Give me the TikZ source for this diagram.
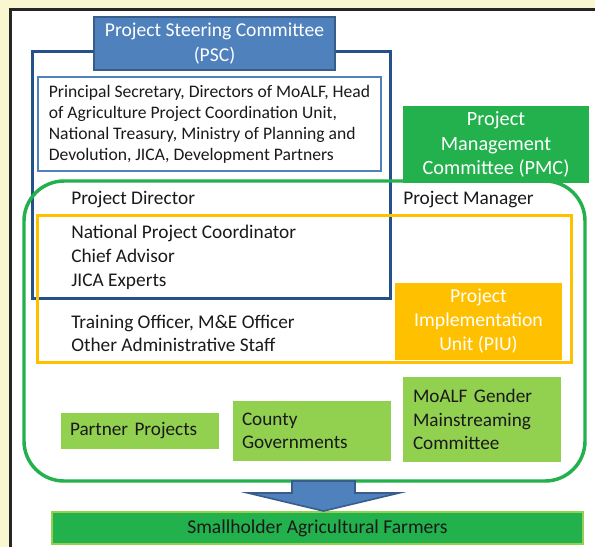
\documentclass[tikz,border=0pt]{standalone}
\usepackage{fontspec}
\setmainfont{Carlito}
\usetikzlibrary{calc}
\definecolor{paper}{HTML}{FAF6D0}
\definecolor{frameline}{HTML}{262626}
\definecolor{navy}{HTML}{24508C}
\definecolor{pscblue}{HTML}{4F81BD}
\definecolor{pscedge}{HTML}{385D8A}
\definecolor{pmcgreen}{HTML}{22B14C}
\definecolor{piuorange}{HTML}{FFC000}
\definecolor{leafgreen}{HTML}{92D050}
\definecolor{ink}{HTML}{1A1A1A}
\newcommand{\bigtxt}{\fontsize{15.2}{18.4}\selectfont}
\newcommand{\midtxt}{\fontsize{14.5}{18}\selectfont}
\newcommand{\smalltxt}{\fontsize{13.2}{15.75}\selectfont}

\begin{document}
\begin{tikzpicture}[x=0.75pt,y=-0.75pt,
    unit/.style={rectangle,inner sep=0pt,align=center,text=white,font=\bigtxt},
    partner/.style={rectangle,fill=leafgreen,inner ysep=0pt,inner xsep=6.75pt,
      text width=105pt,align=left,text=ink,font=\fontsize{14.4}{17.5}\selectfont},
    staff/.style={inner sep=0pt,anchor=west,align=left,text=ink,font=\midtxt}]
   \useasboundingbox (0,0) rectangle (595,547);
   \fill[paper] (0,0) rectangle (595,547);
   \fill[white] (10,9) rectangle (595,547);
   \draw[frameline,line width=2.25pt] (10,547) -- (10,9) -- (595,9);
   \draw[navy,line width=2.25pt] (32,51) rectangle (390,298);
   \node[unit,fill=pscblue,draw=pscedge,line width=2pt,minimum width=180.75pt,
     minimum height=39.75pt,text depth=2pt,font=\fontsize{14.7}{19}\selectfont] (psc)
     at (214.5,43.5) {Project Steering Committee\\(PSC)};
   \node[draw=pscblue,line width=1.1pt,inner sep=0pt,minimum width=257.25pt,
     minimum height=70.5pt,align=left,text=ink,font=\smalltxt]
     (members) at (209.5,124)
     {Principal Secretary, Directors of MoALF, Head\\of Agriculture Project Coordination Unit,\\
      National Treasury, Ministry of Planning and\\Devolution, JICA, Development Partners};
   \node[draw=pmcgreen,line width=2.6pt,rounded corners=30pt,minimum width=420.75pt,
     minimum height=225pt,inner sep=0pt] (pmu) at (304.5,331) {};
   \node[unit,fill=pmcgreen,minimum width=139.5pt,minimum height=57.75pt] (pmc)
     at (496,144.5) {Project\\Management\\Committee (PMC)};
   \draw[piuorange,line width=2.25pt] (37,215) rectangle (571,362);
   \node[unit,fill=piuorange,minimum width=125.25pt,minimum height=57.75pt,
     font=\fontsize{14.8}{18}\selectfont] (piu)
     at (478.5,321.5) {Project\\Implementation\\Unit (PIU)};
   \node[staff] (director) at (71,199.5) {Project Director};
   \node[staff] (manager) at (403,199.5) {Project Manager};
   \node[staff] (advisors) at (71,257)
     {National Project Coordinator\\Chief Advisor\\JICA Experts};
   \node[staff,font=\fontsize{14.5}{17.25}\selectfont] (officers) at (71,333.5)
     {Training Officer, M\&E Officer\\Other Administrative Staff};
   \node[partner,minimum height=27pt] (projects) at (140,431) {Partner Projects};
   \node[partner,minimum height=45pt] (county) at (312,431) {County\\Governments};
   \node[partner,minimum height=63.75pt,inner xsep=7.5pt,text width=103.5pt] (gender)
     at (482,419.5) {MoALF Gender\\Mainstreaming\\Committee};
   \node[rectangle,fill=pmcgreen,draw=leafgreen,line width=1.5pt,minimum width=398.25pt,
     minimum height=24pt,inner sep=0pt,text=ink,font=\fontsize{14.7}{18}\selectfont]
     (farmers) at (317.5,528) {Smallholder Agricultural Farmers};
   \coordinate (arrowtop) at (323.5,481);
   \filldraw[fill=pscblue,draw=pscedge,line width=1.2pt]
     ($(arrowtop)+(-31.5,0)$) -- ++(0,12) -- ++(-44,0) -- (farmers.north -| arrowtop)
     -- ($(arrowtop)+(75.5,12)$) -- ++(-44,0) -- ($(arrowtop)+(31.5,0)$) -- cycle;
  \end{tikzpicture}
\end{document}
